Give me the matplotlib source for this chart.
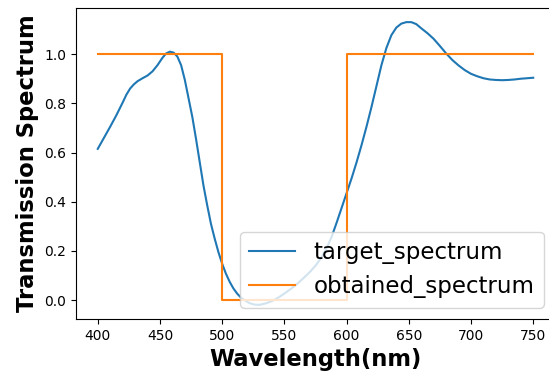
import matplotlib
matplotlib.use('Agg')

import matplotlib.pyplot as plt

# target spectrum
wavelength = [400, 405, 410, 415, 420, 423, 426, 429, 432, 436, 440, 444,
              448, 452, 455, 458, 461, 464, 467, 470, 473, 476, 479, 482,
              485, 488, 491, 494, 497, 500, 503, 506, 509, 512, 515, 518,
              522, 526, 530, 535, 540, 545, 550, 555, 560, 565, 570, 575,
              580, 584, 588, 592, 596, 600, 604, 608, 612, 616, 620, 624,
              628, 632, 636, 640, 644, 648, 652, 656, 660, 665, 670, 675,
              680, 685, 690, 695, 700, 705, 710, 715, 720, 725, 730, 735,
              740, 745, 750]
target = [0.615, 0.66, 0.705, 0.752, 0.803, 0.835, 0.86, 0.877, 0.89, 0.902,
          0.913, 0.93, 0.955, 0.985, 1.003, 1.01, 1.006, 0.99, 0.955, 0.895,
          0.82, 0.745, 0.655, 0.56, 0.465, 0.385, 0.31, 0.25, 0.195, 0.148,
          0.108, 0.075, 0.048, 0.027, 0.011, 0.0, -0.012, -0.018, -0.019,
          -0.013, -0.004, 0.01, 0.027, 0.045, 0.065, 0.088, 0.112, 0.14,
          0.175, 0.212, 0.258, 0.315, 0.375, 0.435, 0.495, 0.56, 0.63, 0.705,
          0.785, 0.87, 0.955, 1.025, 1.077, 1.108, 1.124, 1.13, 1.13, 1.122,
          1.105, 1.085, 1.062, 1.033, 1.003, 0.976, 0.954, 0.935, 0.92, 0.91,
          0.902, 0.897, 0.895, 0.894, 0.895, 0.897, 0.9, 0.902, 0.904]

# obtained spectrum (step edges)
step_wavelength = [400, 500, 600, 750]
obtained = [1, 0, 1, 1]


def main():
    fig = plt.figure(figsize=(5.49, 3.72), dpi=100)
    ax = fig.add_axes([0.1384, 0.1425, 0.8725, 0.836])

    ax.plot(wavelength, target, color='C0', linewidth=1.5,
            label='target_spectrum')
    ax.step(step_wavelength, obtained, where='post', color='C1',
            linewidth=1.5, label='obtained_spectrum')

    ax.set_xlabel('Wavelength(nm)', fontsize=16.3, fontweight='bold')
    ax.set_ylabel('Transmission Spectrum', fontsize=16.3, fontweight='bold')
    ax.set_xticks([400, 450, 500, 550, 600, 650, 700, 750])
    ax.set_yticks([0.0, 0.2, 0.4, 0.6, 0.8, 1.0])
    ax.legend(loc='lower right', fontsize=16.5)

    fig.savefig('out.png', dpi=100)


if __name__ == '__main__':
    main()
